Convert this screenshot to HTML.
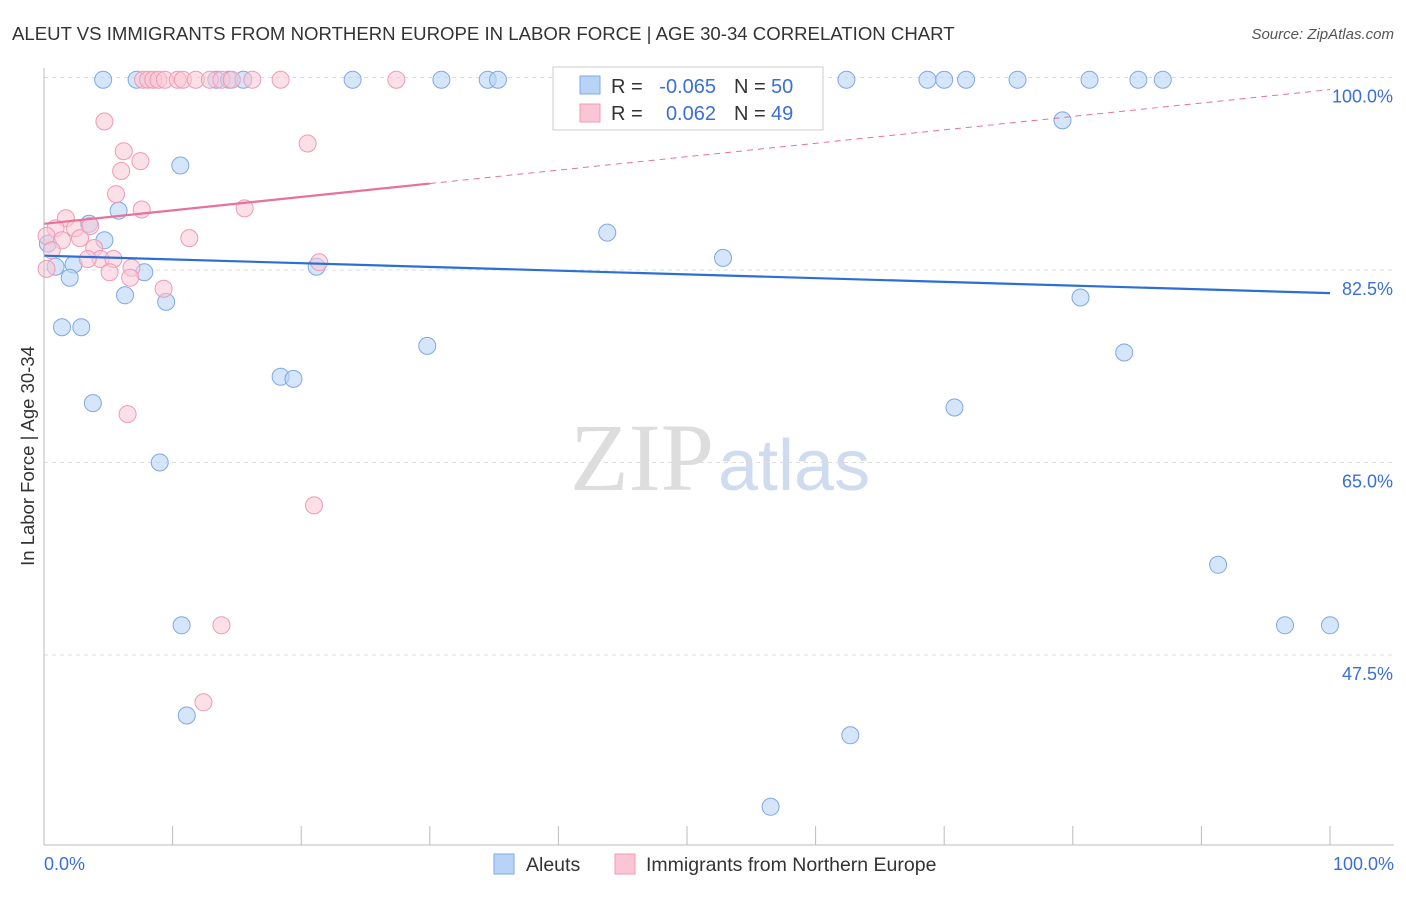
<!DOCTYPE html>
<html><head><meta charset="utf-8"><style>
body{margin:0;background:#fff;font-family:"Liberation Sans",sans-serif;}
</style></head><body>
<svg width="1406" height="892" xmlns="http://www.w3.org/2000/svg">
<text x="12" y="40" font-size="18.6" fill="#333">ALEUT VS IMMIGRANTS FROM NORTHERN EUROPE IN LABOR FORCE | AGE 30-34 CORRELATION CHART</text>
<text x="1394" y="39" font-size="15" fill="#555" text-anchor="end" font-style="italic">Source: ZipAtlas.com</text>
<text x="714" y="490" font-size="96" fill="#ddd" text-anchor="end" font-family="Liberation Serif">ZIP</text>
<text x="718" y="490" font-size="72" fill="#cfdcef">atlas</text>
<g id="grid"></g><g id="pts"></g><g id="lines"></g>
<line x1="44" y1="845" x2="1394" y2="845" stroke="#bbb"/>
<line x1="44" y1="68" x2="44" y2="845" stroke="#bbb"/>
<text x="44" y="870" font-size="18" fill="#3a6fd8">0.0%</text>
<text x="1394" y="870" font-size="18" fill="#3a6fd8" text-anchor="end">100.0%</text>
<text transform="translate(34,456) rotate(-90)" font-size="18.5" fill="#333" text-anchor="middle">In Labor Force | Age 30-34</text>
<g>
<rect x="553" y="67" width="270" height="63" fill="#fff" stroke="#ccc"/>
<rect x="580" y="76" width="20" height="18" fill="#b9d3f6" stroke="#7fa8e6"/>
<rect x="580" y="104" width="20" height="18" fill="#fac6d6" stroke="#f09ab5"/>
<text x="611" y="93" font-size="20" fill="#333">R =</text>
<text x="716" y="93" font-size="20" fill="#3a6fd8" text-anchor="end">-0.065</text>
<text x="734" y="93" font-size="20" fill="#333">N =</text>
<text x="771" y="93" font-size="20" fill="#3a6fd8">50</text>
<text x="611" y="120" font-size="20" fill="#333">R =</text>
<text x="716" y="120" font-size="20" fill="#3a6fd8" text-anchor="end">0.062</text>
<text x="734" y="120" font-size="20" fill="#333">N =</text>
<text x="771" y="120" font-size="20" fill="#3a6fd8">49</text>
</g>
<g>
<rect x="494" y="854" width="20" height="20" fill="#b9d3f6" stroke="#7fa8e6"/>
<text x="526" y="871" font-size="19.5" fill="#333">Aleuts</text>
<rect x="615" y="854" width="20" height="20" fill="#fac6d6" stroke="#f09ab5"/>
<text x="646" y="871" font-size="19.5" fill="#333">Immigrants from Northern Europe</text>
</g>
</svg>
<script>
const yTicks=[100,82.5,65,47.5];
const yTickLabels=["100.0%","82.5%","65.0%","47.5%"];
const aleutX=[4.6,7.2,13.4,14.4,15.5,24.0,30.9,34.5,35.3,47.3,62.4,68.7,70.0,71.7,75.7,81.3,85.1,87.0,79.2,10.6,5.8,3.5,4.7,0.3,43.8,52.8,0.9,2.3,2.0,7.8,21.2,6.3,9.5,80.6,1.4,2.9,29.8,84.0,18.4,19.4,3.8,70.8,9.0,91.3,10.7,96.5,100,11.1,62.7,56.5];
const aleutY=[99.8,99.8,99.8,99.8,99.8,99.8,99.8,99.8,99.8,99.8,99.8,99.8,99.8,99.8,99.8,99.8,99.8,99.8,96.1,92.0,87.9,86.7,85.2,84.9,85.9,83.6,82.8,83.0,81.8,82.3,82.8,80.2,79.6,80.0,77.3,77.3,75.6,75.0,72.8,72.6,70.4,70.0,65.0,55.7,50.2,50.2,50.2,42.0,40.2,33.7];
const immX=[7.7,8.1,8.5,8.9,9.4,10.4,10.8,11.8,12.9,13.8,14.6,16.2,18.4,27.4,4.7,6.2,7.5,6.0,5.6,20.5,7.6,15.6,1.7,0.9,0.2,1.4,2.4,2.8,3.6,3.9,11.3,0.6,4.4,3.4,5.4,6.8,5.1,6.7,21.4,9.3,0.2,6.5,21.0,13.8,12.4];
const immY=[99.8,99.8,99.8,99.8,99.8,99.8,99.8,99.8,99.8,99.8,99.8,99.8,99.8,99.8,96.0,93.3,92.4,91.5,89.4,94.0,88.0,88.1,87.2,86.3,85.6,85.2,86.3,85.4,86.5,84.5,85.4,84.3,83.5,83.5,83.5,82.7,82.3,81.8,83.2,80.8,82.6,69.4,61.1,50.2,43.2];
const blueTrend=[83.8,80.4];
const pinkTrend=[86.7,98.9];
const X=v=>44+v*12.86, Y=v=>77.5+(100-v)*11;
const NS="http://www.w3.org/2000/svg";
function mk(t,a,p){const e=document.createElementNS(NS,t);for(const k in a)e.setAttribute(k,a[k]);p.appendChild(e);return e;}
const g=document.getElementById('grid');
yTicks.forEach((t,i)=>{
 const l=mk('line',{x1:44,x2:1394,y1:Y(t),y2:Y(t),stroke:'#ddd','stroke-dasharray':'4,4'},g);
 
 
 const tx=mk('text',{x:1393,y:Y(t)+25,'font-size':18,fill:'#3a6fd8','text-anchor':'end'},g);
 tx.textContent=yTickLabels[i];
 
 
});
for(let i=0;i<=10;i++){
 const l=mk('line',{x1:X(i*10),x2:X(i*10),y1:826,y2:845,stroke:'#bbb'},g);
 
 
}
const p=document.getElementById('pts');
aleutX.forEach((x,i)=>{
 const c=mk('circle',{cx:X(x),cy:Y(aleutY[i]),r:8.5,fill:'#b9d3f6','fill-opacity':0.6,stroke:'#7fa8e6'},p);
 
 
});
immX.forEach((x,i)=>{
 const c=mk('circle',{cx:X(x),cy:Y(immY[i]),r:8.5,fill:'#fac6d6','fill-opacity':0.55,stroke:'#f09ab5'},p);
 
 
});
const L=document.getElementById('lines');
const b=mk('line',{x1:X(0),y1:Y(blueTrend[0]),x2:X(100),y2:Y(blueTrend[1]),stroke:'#2b6fd6','stroke-width':2.2},L);


const pm=pinkTrend[0]+(pinkTrend[1]-pinkTrend[0])*0.3;
const s=mk('line',{x1:X(0),y1:Y(pinkTrend[0]),x2:X(30),y2:Y(pm),stroke:'#e8719a','stroke-width':2.2},L);


const d=mk('line',{x1:X(30),y1:Y(pm),x2:X(100),y2:Y(pinkTrend[1]),stroke:'#e8719a','stroke-width':1,'stroke-dasharray':'6,5'},L);


</script>
</body></html>
